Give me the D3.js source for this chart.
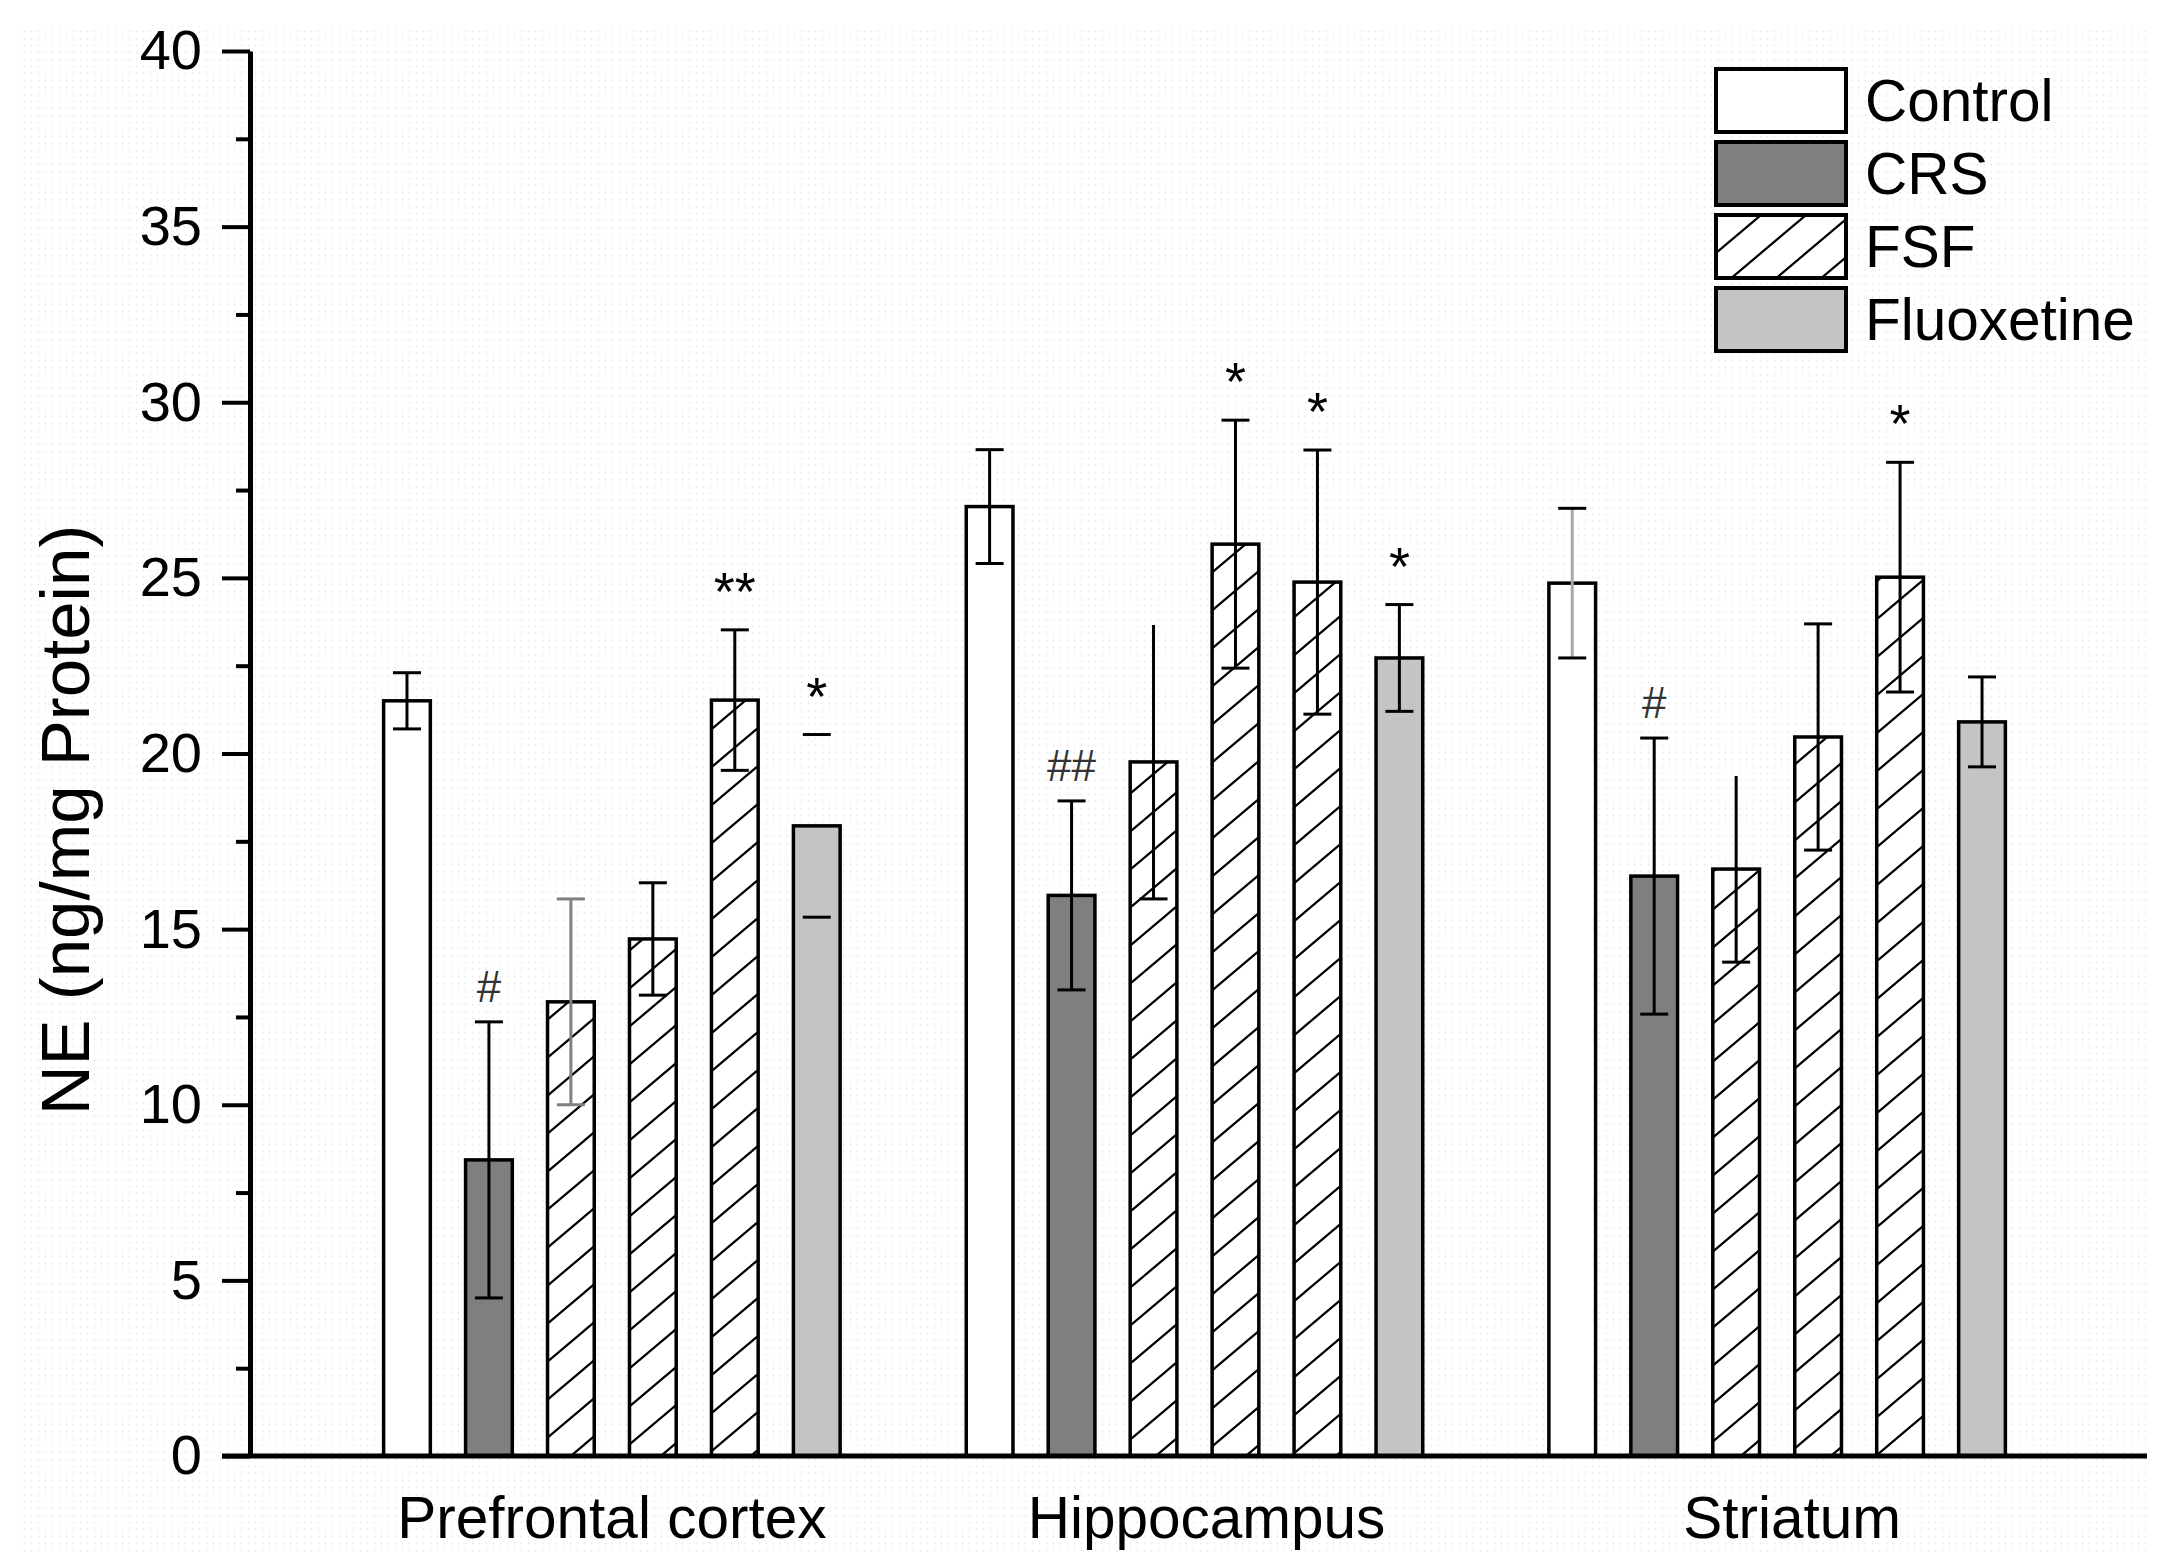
<!DOCTYPE html>
<html>
<head>
<meta charset="utf-8">
<script src="https://cdn.jsdelivr.net/npm/d3@7"></script>
<style>
  body { margin: 0; background: #fff; }
  text { font-family: "Liberation Sans", Arial, sans-serif; }
</style>
</head>
<body>
<script>
// regions on the x axis, six treatment slots in each
var regions = ["Prefrontal cortex", "Hippocampus", "Striatum"];
var slots = ["Control", "CRS", "FSF", "FSF", "FSF", "Fluoxetine"];
var legendItems = ["Control", "CRS", "FSF", "Fluoxetine"];

// NE means and error (ng/mg protein)
var pfcMean = [21.5, 8.43, 12.93, 14.72, 21.52, 17.94];
var pfcErr  = [0.8, 3.93, 2.93, 1.6, 2.0, 2.6];
var hipMean = [27.03, 15.96, 19.76, 25.96, 24.88, 22.72];
var hipErr  = [1.62, 2.69, 3.9, 3.53, 3.76, 1.52];
var strMean = [24.85, 16.51, 16.71, 20.47, 25.02, 20.9];
var strErr  = [2.13, 3.93, 2.65, 3.22, 3.27, 1.28];

// significance marks
var pfcMarks = ["", "#", "", "", "**", "*"];
var hipMarks = ["", "##", "", "*", "*", "*"];
var strMarks = ["", "#", "", "", "*", ""];

var yTicks = [0, 5, 10, 15, 20, 25, 30, 35, 40];
var yMinor = [2.5, 7.5, 12.5, 17.5, 22.5, 27.5, 32.5, 37.5];

var means = [pfcMean, hipMean, strMean],
    errs = [pfcErr, hipErr, strErr],
    marks = [pfcMarks, hipMarks, strMarks];

var w = 2168,
    h = 1568;
var font = "'Liberation Sans', Arial, sans-serif";

var fills = {Control: "#ffffff", CRS: "#7f7f7f", FSF: "url(#hatch)", Fluoxetine: "#c4c4c4"};

// odd error bars in the original (gray ones, missing caps)
var errLook = {
  "0-2": {color: "#808080"},
  "0-5": {stem: false},
  "1-2": {topCap: false},
  "2-0": {stemColor: "#a8a8a8"},
  "2-2": {topCap: false}
};
// the region labels sit a little right of their bar groups
var labelShift = [0, 12, 15];

var svg = d3.select("body").append("svg")
    .attr("width", w)
    .attr("height", h);

var defs = svg.append("defs");

defs.append("pattern")
    .attr("id", "dots")
    .attr("patternUnits", "userSpaceOnUse")
    .attr("width", 7).attr("height", 7)
  .append("circle")
    .attr("cx", 3.5).attr("cy", 3.5).attr("r", 0.9)
    .attr("fill", "#e9e9e9");

var hatch = defs.append("pattern")
    .attr("id", "hatch")
    .attr("patternUnits", "userSpaceOnUse")
    .attr("width", 45).attr("height", 38);
hatch.append("rect").attr("width", 45).attr("height", 38).attr("fill", "#fff");
hatch.append("path")
    .attr("d", "M0,38L45,0M-5,4.2L5,-4.2M40,42.2L50,33.8")
    .attr("stroke", "#000")
    .attr("stroke-width", 2.2);

svg.append("rect")
    .attr("x", 22).attr("y", 25)
    .attr("width", 2125).attr("height", 1530)
    .attr("fill", "url(#dots)");

var y = d3.scaleLinear().domain([0, 40]).range([1456, 51]);

var x0 = d3.scaleBand()
    .domain(regions)
    .range([366, 2023])
    .paddingInner(0.156)
    .paddingOuter(0);

var x1 = d3.scaleBand()
    .domain(d3.range(slots.length))
    .range([0, x0.bandwidth()])
    .paddingInner(0.43)
    .paddingOuter(0.215);

var rows = [];
regions.forEach(function(r, gi) {
  slots.forEach(function(s, i) {
    rows.push({region: r, gi: gi, i: i, slot: s,
               v: means[gi][i], e: errs[gi][i], mark: marks[gi][i]});
  });
});

var cx = function(d) { return x0(d.region) + x1(d.i) + x1.bandwidth() / 2; };

// bars
svg.append("g").selectAll("rect")
    .data(rows)
  .enter().append("rect")
    .attr("x", function(d) { return x0(d.region) + x1(d.i); })
    .attr("y", function(d) { return y(d.v); })
    .attr("width", x1.bandwidth())
    .attr("height", function(d) { return y(0) - y(d.v); })
    .attr("fill", function(d) { return fills[d.slot]; })
    .attr("stroke", "#000")
    .attr("stroke-width", 3.5);

// error bars
var capW = 28;
svg.append("g").selectAll("g")
    .data(rows)
  .enter().append("g")
    .each(function(d) {
      var look = errLook[d.gi + "-" + d.i] || {};
      var col = look.color || "#000";
      var g = d3.select(this);
      var c = cx(d), top = y(d.v + d.e), bot = y(d.v - d.e);
      if (look.stem !== false) {
        g.append("line")
            .attr("x1", c).attr("x2", c)
            .attr("y1", top).attr("y2", bot)
            .attr("stroke", look.stemColor || col)
            .attr("stroke-width", 3);
      }
      if (look.topCap !== false) {
        g.append("line")
            .attr("x1", c - capW / 2).attr("x2", c + capW / 2)
            .attr("y1", top).attr("y2", top)
            .attr("stroke", col).attr("stroke-width", 3);
      }
      g.append("line")
          .attr("x1", c - capW / 2).attr("x2", c + capW / 2)
          .attr("y1", bot).attr("y2", bot)
          .attr("stroke", col).attr("stroke-width", 3);
    });

// significance marks
svg.append("g").selectAll("text")
    .data(rows.filter(function(d) { return d.mark; }))
  .enter().append("text")
    .attr("x", cx)
    .attr("y", function(d) { return y(d.v + d.e) - 20; })
    .attr("text-anchor", "middle")
    .attr("font-size", function(d) { return d.mark.charAt(0) == "#" ? 44 : 54; })
    .attr("fill", function(d) { return d.mark.charAt(0) == "#" ? "#333" : "#000"; })
    .text(function(d) { return d.mark; });

// y axis
var yAxis = svg.append("g")
    .attr("transform", "translate(250,0)")
    .call(d3.axisLeft(y).tickValues(yTicks).tickSize(28).tickPadding(20).tickSizeOuter(0));
yAxis.select(".domain").attr("stroke-width", 5);
yAxis.selectAll(".tick line").attr("stroke-width", 4);
yAxis.selectAll("text")
    .attr("font-size", 56)
    .attr("font-family", font);

var yMinorAxis = svg.append("g")
    .attr("transform", "translate(250,0)")
    .call(d3.axisLeft(y).tickValues(yMinor).tickSize(14).tickFormat("").tickSizeOuter(0));
yMinorAxis.select(".domain").remove();
yMinorAxis.selectAll(".tick line").attr("stroke-width", 4);

// x axis
var xAxis = svg.append("g")
    .attr("transform", "translate(0," + y(0) + ")")
    .call(d3.axisBottom(x0).tickSize(0).tickPadding(40));
xAxis.select(".domain").remove();
xAxis.selectAll("text")
    .attr("dx", function(d, i) { return labelShift[i]; })
    .attr("font-size", 58.5)
    .attr("font-family", font);

svg.append("line")
    .attr("x1", 222).attr("x2", 2147)
    .attr("y1", y(0)).attr("y2", y(0))
    .attr("stroke", "#000")
    .attr("stroke-width", 5);

svg.append("text")
    .attr("transform", "translate(89," + 820 + ") rotate(-90)")
    .attr("text-anchor", "middle")
    .attr("font-size", 69)
    .text("NE (ng/mg Protein)");

// legend
var legend = svg.append("g")
    .attr("transform", "translate(1716,69)")
  .selectAll("g")
    .data(legendItems)
  .enter().append("g")
    .attr("transform", function(d, i) { return "translate(0," + (i * 73) + ")"; });

legend.append("rect")
    .attr("width", 130)
    .attr("height", 63)
    .attr("fill", function(d) { return fills[d]; })
    .attr("stroke", "#000")
    .attr("stroke-width", 4);

legend.append("text")
    .attr("x", 149)
    .attr("y", 52)
    .attr("font-size", 58.5)
    .text(String);
</script>
</body>
</html>
